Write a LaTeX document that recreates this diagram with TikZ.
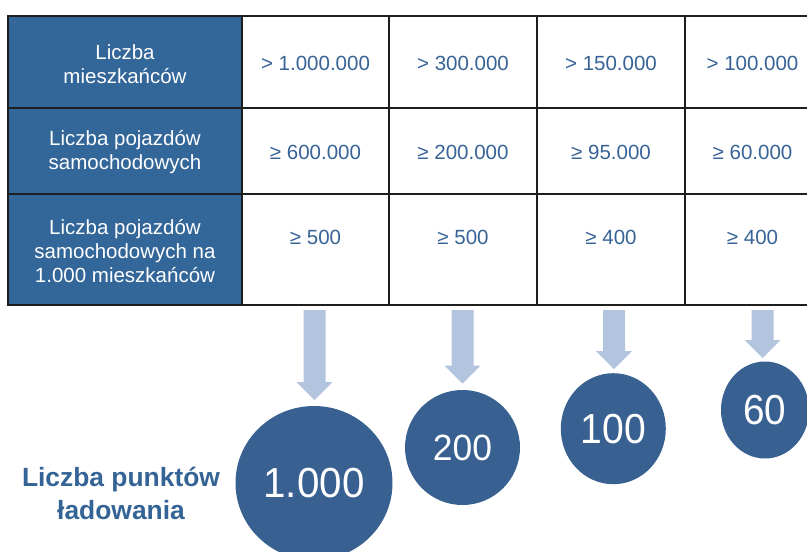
\documentclass[tikz,border=0pt]{standalone}
\usepackage{fontspec}
\setmainfont{Liberation Sans}
\usetikzlibrary{shapes.geometric}
\definecolor{hdr}{RGB}{51,102,153}
\definecolor{circ}{RGB}{56,97,146}
\definecolor{arrowc}{RGB}{178,196,222}
\definecolor{valtxt}{RGB}{55,99,150}
\definecolor{lbltxt}{RGB}{52,99,150}
\definecolor{tline}{RGB}{30,30,30}
\begin{document}
\begin{tikzpicture}[x=1pt,y=-1pt,
  cellbox/.style={draw=tline, line width=1.4pt, anchor=north west, inner sep=0pt, outer sep=0pt},
  hcell/.style={cellbox, fill=hdr, minimum width=234pt},
  vcell/.style={cellbox, fill=white, minimum width=#1},
  htxt/.style={text=white, align=center, font=\fontsize{20.5}{24}\selectfont, inner sep=0pt},
  vtxt/.style={text=valtxt, font=\fontsize{20.5}{24}\selectfont, inner sep=0pt},
  bubble/.style={ellipse, fill=circ, text=white, inner sep=0pt, outer sep=0pt},
  blockarrow/.style={fill=arrowc}
]
\useasboundingbox (0,0) rectangle (807,552);
\clip (0,0) rectangle (807,552);

% table cells
\node[hcell, minimum height=92pt] (h1) at (8,16) {};
\node[hcell, minimum height=86pt] (h2) at (8,108) {};
\node[hcell, minimum height=111pt] (h3) at (8,194) {};
\foreach \r/\y/\h in {1/16/92,2/108/86,3/194/111}{
  \node[vcell=147pt, minimum height=\h pt] (c\r a) at (242,\y) {};
  \node[vcell=148pt, minimum height=\h pt] (c\r b) at (389,\y) {};
  \node[vcell=148pt, minimum height=\h pt] (c\r c) at (537,\y) {};
  \node[vcell=148pt, minimum height=\h pt] (c\r d) at (685,\y) {};
}

% header texts
\node[htxt] (t1) at (125,64) {Liczba\\mieszkańców};
\node[htxt] (t2) at (125,152) {Liczba pojazdów\\samochodowych};
\node[htxt] (t3) at (125,251) {Liczba pojazdów\\samochodowych na\\1.000 mieszkańców};

% values
\node[vtxt] (v1a) at (315.5,63) {> 1.000.000};
\node[vtxt] (v1b) at (463,63) {> 300.000};
\node[vtxt] (v1c) at (611,63) {> 150.000};
\node[vtxt] (v1d) at (752.5,63) {> 100.000};
\node[vtxt] (v2a) at (315.5,152) {≥ 600.000};
\node[vtxt] (v2b) at (463,152) {≥ 200.000};
\node[vtxt] (v2c) at (611,152) {≥ 95.000};
\node[vtxt] (v2d) at (752.5,152) {≥ 60.000};
\node[vtxt] (v3a) at (315.5,237) {≥ 500};
\node[vtxt] (v3b) at (463,237) {≥ 500};
\node[vtxt] (v3c) at (611,237) {≥ 400};
\node[vtxt] (v3d) at (752.5,237) {≥ 400};

% block arrows
\foreach \cx/\sb in {314.5/382, 462.5/365.5, 614/351, 762.5/340}{
  \fill[blockarrow] (\cx-11,310) -- (\cx+11,310) -- (\cx+11,\sb) -- (\cx+18,\sb)
     -- (\cx,\sb+18) -- (\cx-18,\sb) -- (\cx-11,\sb) -- cycle;
}

% bubbles
\node[bubble, minimum width=157pt, minimum height=154pt, font=\fontsize{42}{42}\selectfont] (b1) at (314,483) {\scalebox{0.96}[1]{1.000}};
\node[bubble, minimum width=115pt, minimum height=115pt, font=\fontsize{36.5}{36.5}\selectfont] (b2) at (462.5,447.5) {\scalebox{0.97}[1]{200}};
\node[bubble, minimum width=105pt, minimum height=111pt, font=\fontsize{42}{42}\selectfont] (b3) at (613.3,428.7) {\scalebox{0.93}[1]{100}};
\node[bubble, minimum width=88pt, minimum height=97pt, font=\fontsize{42}{42}\selectfont] (b4) at (765,410) {\scalebox{0.92}[1]{60}};

% label
\node[text=lbltxt, align=center, font=\fontsize{26.4}{33}\selectfont\bfseries, inner sep=0pt] (lbl) at (121,493) {Liczba punktów\\ładowania};
\end{tikzpicture}
\end{document}
